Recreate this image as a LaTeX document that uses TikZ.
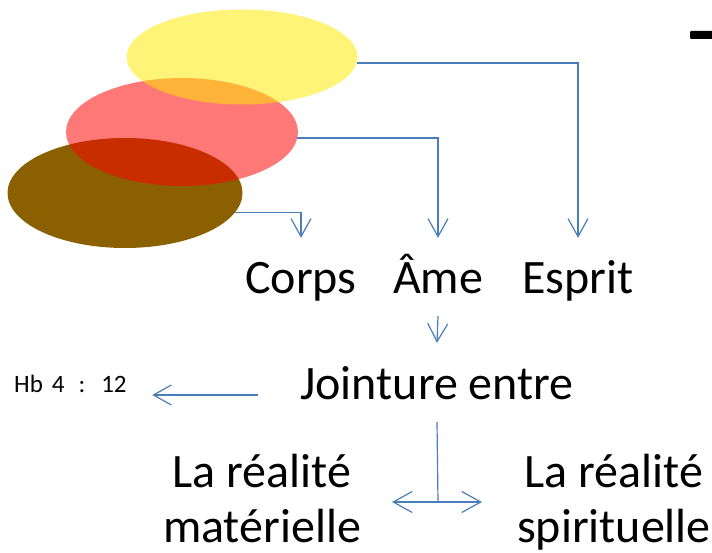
\documentclass[tikz,border=0pt]{standalone}
\usepackage{fontspec}
\setmainfont{Carlito}
\usepackage{tikz}
\usetikzlibrary{positioning}
\usetikzlibrary{arrows.meta}
\usetikzlibrary{shapes.geometric}
\definecolor{linkblue}{HTML}{4A7EBB}
\definecolor{soilbrown}{HTML}{8B6000}
\definecolor{sunyellow}{RGB}{255,233,0}
\tikzset {
  x=1pt, y=-1pt,
  % the three overlapping layers
  layer/.style = {ellipse, inner sep=0pt},
  % big words
  word/.style = {font=\fontsize{48}{55}\selectfont, inner sep=0pt,
    text height=31pt, text depth=11pt, anchor=base},
  % small reference
  refnote/.style = {font=\fontsize{25}{29}\selectfont, inner sep=0pt, anchor=base west},
  % blue connectors
  link/.style = {linkblue, line width=1.2pt,
    -{Straight Barb[length=18pt, width=20pt, line width=1.2pt]}},
  twoway/.style = {linkblue, line width=1.2pt,
    {Straight Barb[length=19pt, width=21pt, line width=1.2pt]}-{Straight Barb[length=19pt, width=21pt, line width=1.2pt]}},
}

\begin{document}
\begin{tikzpicture}
  \useasboundingbox (0,0) rectangle (712,553);

  % body, soul, spirit
  \node[layer, fill=soilbrown, minimum width=235pt, minimum height=110pt] (brun) at (125,193) {};
  \node[layer, fill=red, fill opacity=0.53, minimum width=232pt, minimum height=108pt] (rouge) at (182,132) {};
  \node[layer, fill=sunyellow, fill opacity=0.53, minimum width=231pt, minimum height=95pt] (jaune) at (242,57) {};

  % cut-off glyph at the top right
  \fill[rounded corners=1pt] (690,31) rectangle (714,39);

  \node[word] (corps) at (301,294) {Corps};
  \node[word] (ame) at (438,294) {Âme};
  \node[word] (esprit) at (578,294) {Esprit};

  \node[word] (jointure) at (437,399) {Jointure entre};
  \node[refnote] (hb) at (14,392) {Hb\hspace{9pt}4\hspace{14pt}:\hspace{16pt}12};

  % base is the last line here
  \node[word, align=center] (materiel) at (262,542) {La réalité\\matérielle};
  \node[word, align=center] (spirituel) at (614,542) {La réalité\\spirituelle};

  \coordinate (fourche) at (438,502);
  \coordinate (gauche) at (392,502);
  \coordinate (droite) at (482,502);

  \draw[link] (jaune.-3) -| ([yshift=25pt]esprit.north);
  \draw[link] (rouge.-3) -| ([yshift=25pt]ame.north);
  \draw[link] (brun.-10) -| ([yshift=25pt]corps.north);

  \draw[link] ([yshift=-11pt]ame.south) -- ([yshift=25pt]jointure.north);
  \draw[link] ([xshift=-42pt,yshift=-6pt]jointure.west) -- ++(-106,0);

  \draw[linkblue, line width=1.2pt] ([yshift=-12pt]jointure.south) -- (fourche);
  \draw[twoway] (gauche) -- (droite);
\end{tikzpicture}
\end{document}
